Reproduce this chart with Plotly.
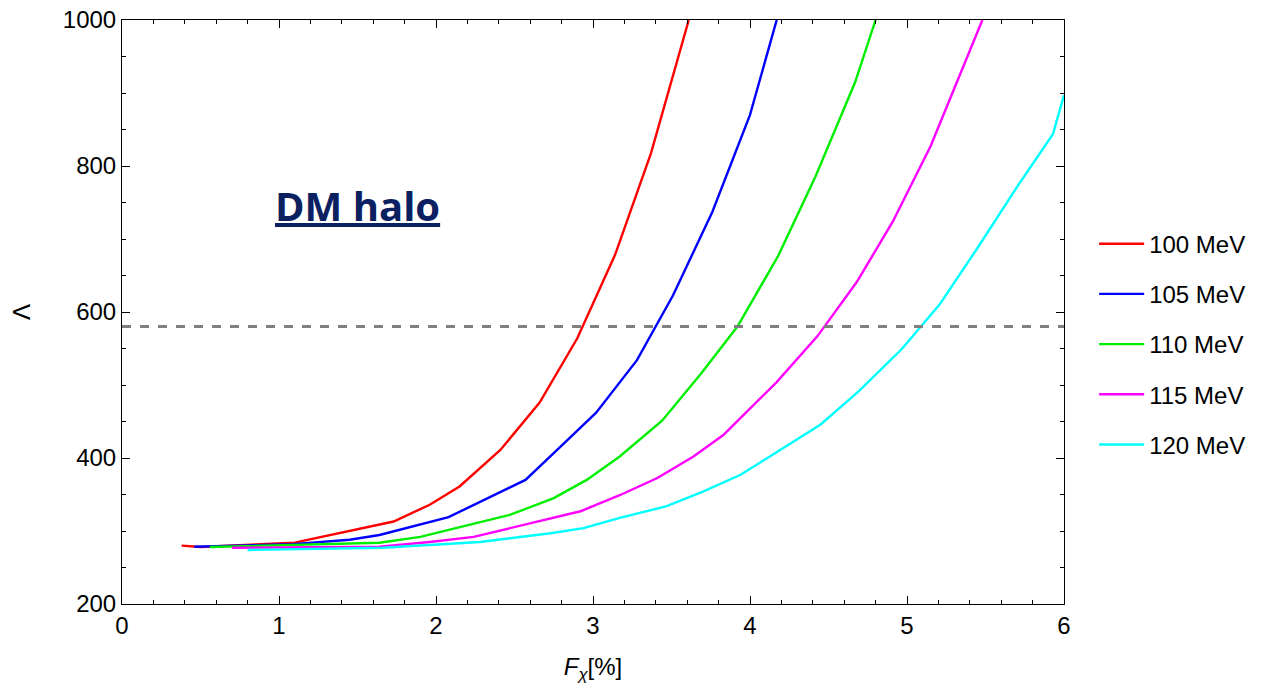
import plotly.graph_objects as go

labels = ["100 MeV", "105 MeV", "110 MeV", "115 MeV", "120 MeV"]
colors = ["#ff0000", "#0000ff", "#00ee00", "#ff00ff", "#00ffff"]

x100 = [0.38, 0.50, 1.10, 1.64, 1.73, 1.96, 2.15, 2.41, 2.66, 2.90, 3.14, 3.37, 3.61]
y100 = [280, 278, 284, 308, 313, 336, 361, 411, 476, 564, 678, 818, 1000]

x105 = [0.46, 1.09, 1.45, 1.64, 2.08, 2.30, 2.57, 2.79, 3.02, 3.28, 3.51, 3.76, 4.00, 4.17]
y105 = [278.5, 282, 288, 294.5, 319, 342, 370, 415, 462, 534, 623, 737, 870, 1000]

x110 = [0.56, 1.64, 1.90, 2.47, 2.75, 2.96, 3.17, 3.44, 3.69, 3.92, 4.18, 4.42, 4.67, 4.80]
y110 = [278, 284, 292, 322, 345, 370, 402, 451, 516, 580, 677, 787, 915, 1000]

x115 = [0.70, 1.64, 1.96, 2.24, 2.92, 3.17, 3.41, 3.64, 3.83, 4.17, 4.43, 4.68, 4.91, 5.15, 5.36, 5.48]
y115 = [277, 278.5, 285, 292, 327, 349, 372.6, 402, 431.5, 504, 567, 641, 724, 827, 937, 1000]

x120 = [0.80, 1.66, 2.28, 2.73, 2.94, 3.17, 3.47, 3.70, 3.94, 4.45, 4.69, 4.97, 5.21, 5.45, 5.70, 5.93, 6.00]
y120 = [274, 277, 285, 297, 304, 318, 334, 354, 377, 446, 491, 550, 611, 688, 771, 844, 897]

threshold = 580

xs = [x100, x105, x110, x115, x120]
ys = [y100, y105, y110, y115, y120]

FONT = "Liberation Sans, Arial"

fig = go.Figure()
for lab, col, xv, yv in zip(labels, colors, xs, ys):
    fig.add_trace(go.Scatter(x=xv, y=yv, mode="lines", name=lab, legendgroup=lab,
                             line=dict(color=col, width=2.4)))

fig.add_shape(type="line", xref="paper", yref="y", x0=0, x1=1, y0=threshold, y1=threshold,
              line=dict(color="#808080", width=3, dash="dash"))

fig.add_annotation(x=1.5, y=746, xref="x", yref="y", xanchor="center", yanchor="middle",
                   text="<b><u>DM halo</u></b>", showarrow=False,
                   font=dict(family="Open Sans", size=40, color="#0a2060"))

axis_common = dict(showgrid=False, zeroline=False, showline=True, linecolor="black",
                   linewidth=1, mirror="ticks", ticks="inside", ticklen=8, tickcolor="black",
                   automargin=False,
                   tickfont=dict(family=FONT, size=24, color="black"))

fig.update_xaxes(range=[0, 6], dtick=1, tick0=0,
                 minor=dict(dtick=0.2, ticks="inside", ticklen=4, tickcolor="black"),
                 title=dict(text="<i>F</i><sub><i>χ</i></sub>[%]",
                            font=dict(family=FONT, size=24, color="black"),
                            standoff=20),
                 **axis_common)
fig.update_yaxes(range=[200, 1000], dtick=200, tick0=200,
                 minor=dict(dtick=50, ticks="inside", ticklen=4, tickcolor="black"),
                 title=dict(text="Λ",
                            font=dict(family=FONT, size=24, color="black"),
                            standoff=25),
                 **axis_common)

fig.update_layout(
    width=1267, height=691,
    margin=dict(l=122, r=203, t=20, b=87),
    paper_bgcolor="white", plot_bgcolor="white",
    legend=dict(x=1.032, y=0.445, xanchor="left", yanchor="middle",
                font=dict(family=FONT, size=24, color="black"),
                itemwidth=45,
                tracegroupgap=16, bgcolor="rgba(0,0,0,0)"),
    showlegend=True,
)

fig.write_html("out.html")
